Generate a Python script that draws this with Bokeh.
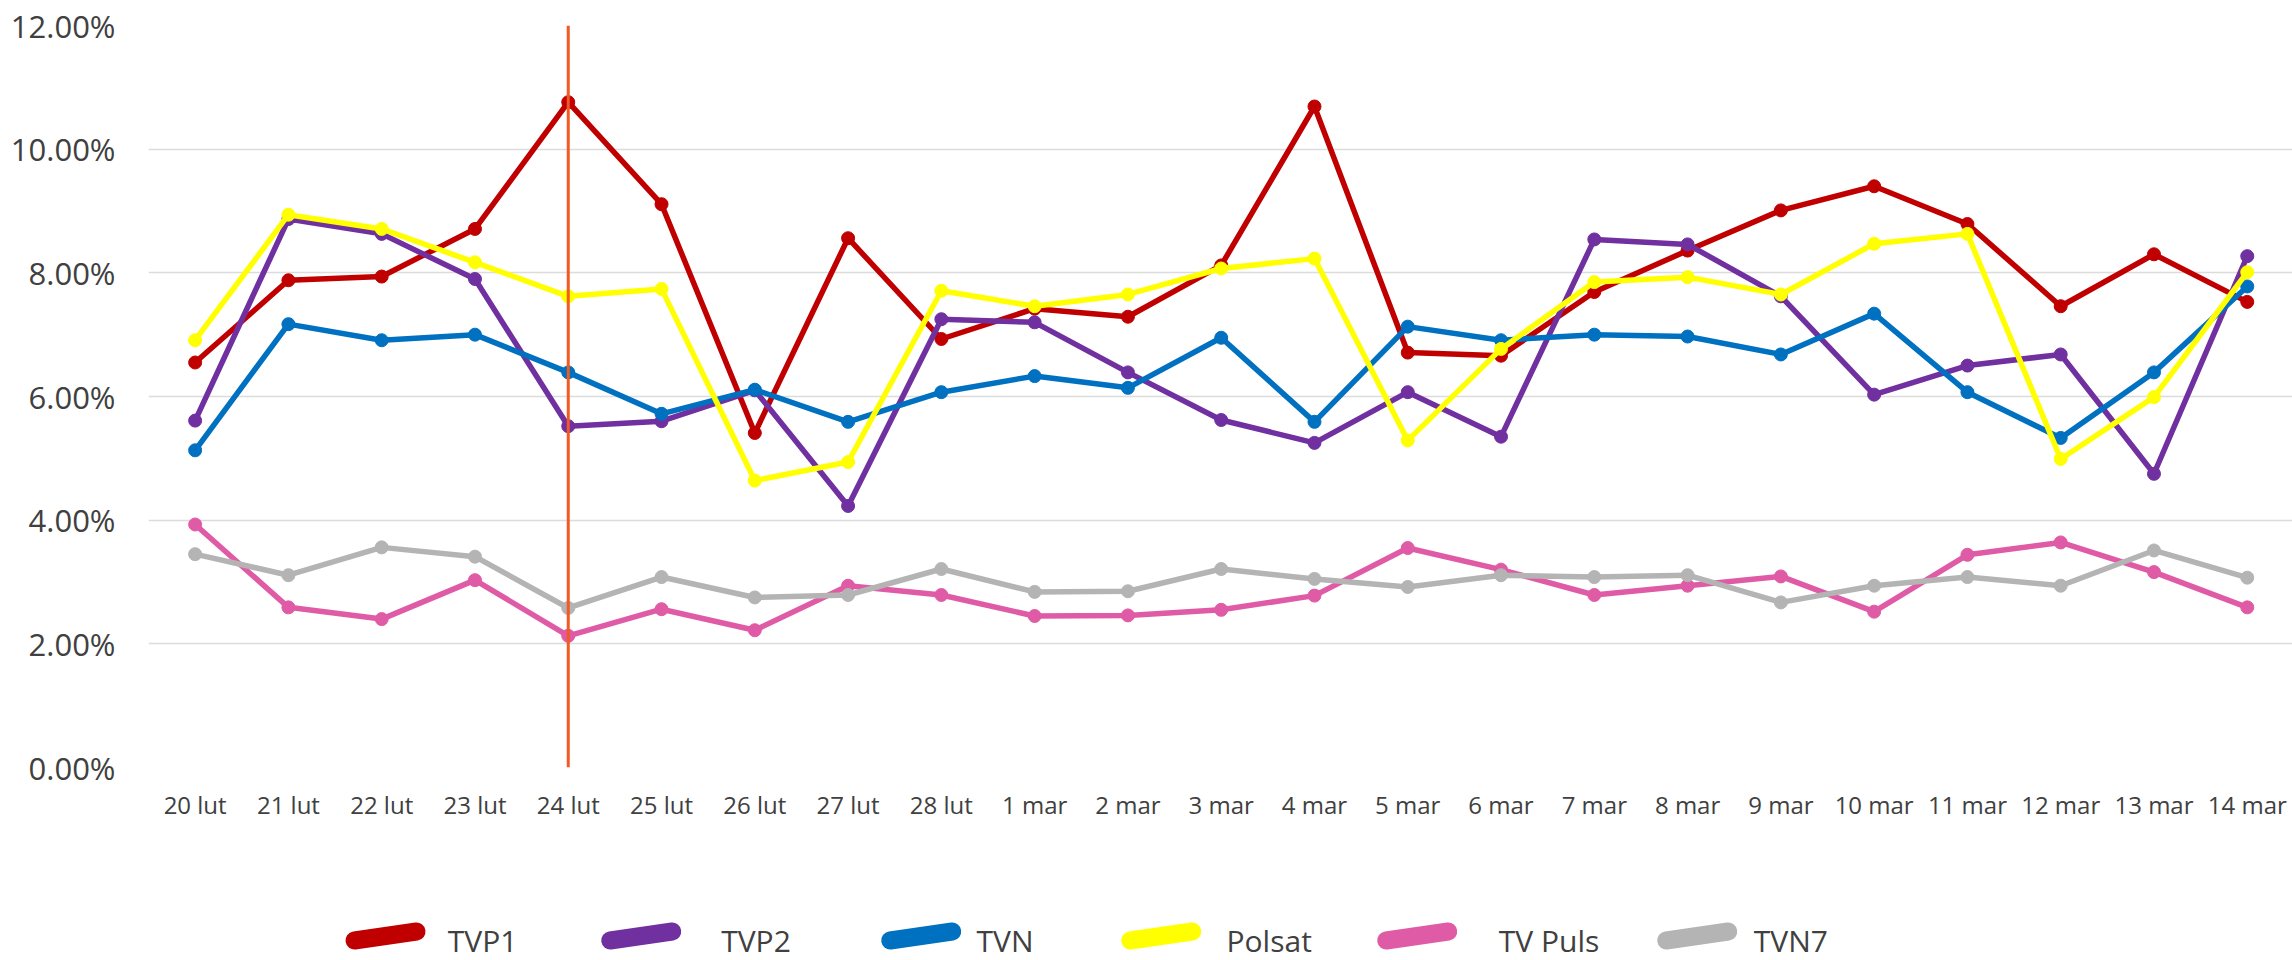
from bokeh.plotting import figure
from bokeh.models import Range1d, FixedTicker, PrintfTickFormatter, Span, ColumnDataSource
from bokeh.layouts import column
from bokeh.core.properties import value
from bokeh.embed import file_html
from bokeh.resources import INLINE

dates = ["20 lut", "21 lut", "22 lut", "23 lut", "24 lut", "25 lut", "26 lut", "27 lut", "28 lut",
         "1 mar", "2 mar", "3 mar", "4 mar", "5 mar", "6 mar", "7 mar", "8 mar", "9 mar", "10 mar",
         "11 mar", "12 mar", "13 mar", "14 mar"]

tvp1 = [6.55, 7.88, 7.94, 8.71, 10.76, 9.11, 5.41, 8.56, 6.93, 7.42, 7.29, 8.12, 10.69, 6.71, 6.66,
        7.69, 8.36, 9.01, 9.40, 8.79, 7.46, 8.30, 7.53]
tvp2 = [5.61, 8.87, 8.63, 7.90, 5.52, 5.60, 6.10, 4.23, 7.25, 7.20, 6.39, 5.62, 5.25, 6.07, 5.35,
        8.54, 8.46, 7.62, 6.03, 6.50, 6.68, 4.75, 8.27]
tvn = [5.13, 7.17, 6.91, 7.00, 6.39, 5.72, 6.11, 5.59, 6.07, 6.33, 6.14, 6.95, 5.59, 7.13, 6.91,
       7.00, 6.97, 6.68, 7.34, 6.07, 5.33, 6.39, 7.78]
polsat = [6.91, 8.94, 8.71, 8.17, 7.62, 7.74, 4.64, 4.94, 7.71, 7.46, 7.65, 8.07, 8.23, 5.29, 6.77,
          7.85, 7.93, 7.65, 8.47, 8.63, 4.99, 5.99, 8.01]
tv_puls = [3.93, 2.59, 2.40, 3.03, 2.13, 2.56, 2.22, 2.94, 2.79, 2.45, 2.46, 2.55, 2.78, 3.55, 3.20,
           2.79, 2.94, 3.09, 2.52, 3.44, 3.64, 3.16, 2.59]
tvn7 = [3.45, 3.11, 3.56, 3.41, 2.58, 3.08, 2.75, 2.79, 3.21, 2.84, 2.85, 3.21, 3.05, 2.92, 3.11,
        3.08, 3.11, 2.67, 2.94, 3.08, 2.94, 3.51, 3.07]

series_names = ["TVP1", "TVP2", "TVN", "Polsat", "TV Puls", "TVN7"]
series_values = [tvp1, tvp2, tvn, polsat, tv_puls, tvn7]
series_colors = ["#C00000", "#7030A0", "#0070C0", "#FFFF00", "#E05BA5", "#B4B4B4"]

y_ticks = [0, 2, 4, 6, 8, 10, 12]
marker_date = "24 lut"

FONT = "Open Sans"
TEXT = "#404040"
W = 2292
H_MAIN = 850
H_LEG = 110
LEFT = 148

x_idx = list(range(len(dates)))

p = figure(width=W, height=H_MAIN, output_backend="svg", toolbar_location=None,
           x_range=Range1d(-0.5, 22.485), y_range=Range1d(0, 12),
           min_border_left=LEFT, min_border_right=0, min_border_top=25, min_border_bottom=H_MAIN - 767)
p.outline_line_color = None
p.background_fill_color = "white"
p.border_fill_color = "white"

p.xgrid.grid_line_color = None
p.ygrid.grid_line_color = "#DCDCDC"
p.ygrid.grid_line_width = 1.5
p.ygrid.ticker = FixedTicker(ticks=y_ticks)

p.yaxis.ticker = FixedTicker(ticks=y_ticks)
p.yaxis.formatter = PrintfTickFormatter(format="%.2f%%")
p.xaxis.ticker = FixedTicker(ticks=x_idx)
p.xaxis.major_label_overrides = {i: d for i, d in enumerate(dates)}

for ax in (p.xaxis[0], p.yaxis[0]):
    ax.axis_line_color = None
    ax.major_tick_line_color = None
    ax.minor_tick_line_color = None
    ax.major_tick_out = 0
    ax.major_tick_in = 0
    ax.major_label_text_font = FONT
    ax.major_label_text_color = TEXT
p.yaxis.major_label_text_font_size = "31px"
p.yaxis.major_label_standoff = 33
p.xaxis.major_label_text_font_size = "24px"
p.xaxis.major_label_standoff = 20

for name, vals, col in zip(series_names, series_values, series_colors):
    src = ColumnDataSource(dict(x=x_idx, y=vals))
    p.line("x", "y", source=src, line_color=col, line_width=5.5, line_join="round", line_cap="round")
    p.scatter("x", "y", source=src, size=13, fill_color=col, line_color=col, line_width=1)

p.add_layout(Span(location=dates.index(marker_date), dimension="height",
                  line_color="#F15A22", line_width=3))

# legend strip: its frame is aligned with the main frame by the column layout,
# so the x range is set so that data x equals the page pixel x
lg = figure(width=W, height=H_LEG, output_backend="svg", toolbar_location=None,
            x_range=Range1d(LEFT, W), y_range=Range1d(0, H_LEG),
            x_axis_type=None, y_axis_type=None,
            min_border_left=LEFT, min_border_right=0, min_border_top=0, min_border_bottom=0)
lg.grid.visible = False
lg.outline_line_color = None
lg.background_fill_color = "white"
lg.border_fill_color = "white"

sym_centers = [385, 640.7, 920.7, 1160.7, 1416.7, 1696.7]
text_left = [447.3, 720.7, 976, 1226, 1498.3, 1753.3]
half = 31
lg.segment(x0=[c - half for c in sym_centers], y0=[20] * 6,
           x1=[c + half for c in sym_centers], y1=[29] * 6,
           line_color=series_colors, line_width=18, line_cap="round")
lg.text(x=text_left, y=[20] * 6, text=series_names, text_font=value(FONT),
        text_font_size="30px", text_color=TEXT, text_baseline="alphabetic", text_align="left")

layout = column(p, lg, spacing=0)
open("out.html", "w").write(file_html(layout, INLINE))
